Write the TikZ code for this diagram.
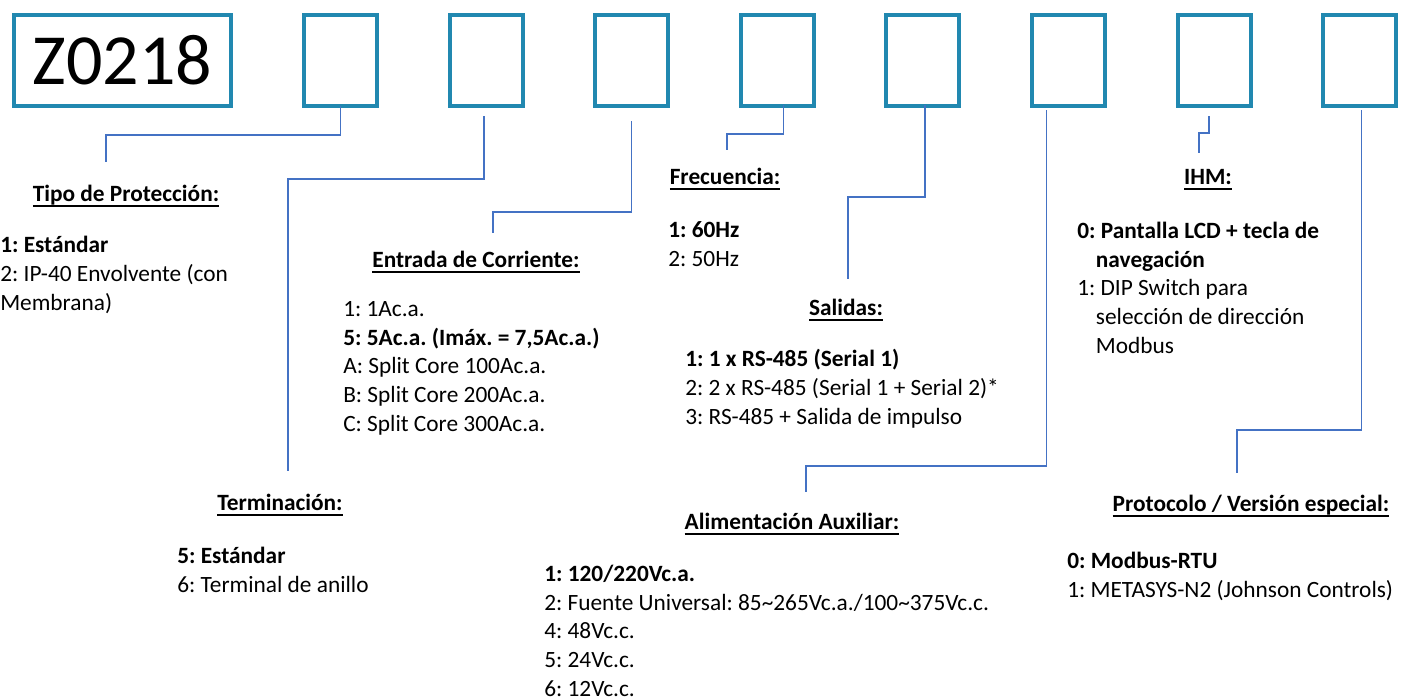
\documentclass[tikz,border=0pt]{standalone}
\usepackage{fontspec}
\setmainfont{Carlito}
\usepackage{xcolor}
\usepackage{tikz}
\usetikzlibrary{calc,positioning}

\definecolor{slotblue}{RGB}{33,136,176}
\definecolor{linkblue}{RGB}{68,114,196}

% heading with a fixed underline
\newcommand{\headline}[1]{\sbox0{#1}\rlap{\rule[-4.5pt]{\wd0}{1.3pt}}\usebox0}
\frenchspacing

\begin{document}
\begin{tikzpicture}[
    x=0.75pt, y=-0.75pt,
    slot/.style={draw=slotblue, line width=3pt, minimum width=54.75pt, minimum height=68.25pt, inner sep=0pt},
    head/.style={anchor=base, inner sep=0pt, font=\fontsize{17.5}{21.4}\selectfont\bfseries},
    opts/.style={anchor=base west, align=left, inner sep=0pt, font=\fontsize{17.5}{21.4}\selectfont},
    link/.style={draw=linkblue, line width=1pt},
]
\useasboundingbox (0,0) rectangle (1405,699);

% ---------- Code boxes ----------
\node[slot, minimum width=162.75pt, font=\fontsize{54}{54}\selectfont] (code) at (122.5,60.5) {Z0218};
\foreach \i in {1,...,8}
    \node[slot] (b\i) at ({340.5+145.6*(\i-1)},60.5) {};

% ---------- Headings ----------
\node[head] (tipo) at (126,201) {\headline{Tipo de Protección:}};
\node[head] (term) at (280,510) {\headline{Terminación:}};
\node[head] (entrada) at (476,267) {\headline{Entrada de Corriente:}};
\node[head] (frec) at (725,184) {\headline{Frecuencia:}};
\node[head] (salidas) at (846,315) {\headline{Salidas:}};
\node[head] (alim) at (792,529) {\headline{Alimentación Auxiliar:}};
\node[head] (ihm) at (1208,184) {\headline{IHM:}};
\node[head] (proto) at (1251,511) {\headline{Protocolo / Versión especial:}};

% ---------- Option lists (placed at the baseline of their last line) ----------
\node[opts] (tipolist) at (0,310) {\textbf{1: Estándar}\\2: IP-40 Envolvente (con\\Membrana)};
\node[opts] (termlist) at (177,592) {\textbf{5: Estándar}\\6: Terminal de anillo};
\node[opts] (entradalist) at (343,431) {1: 1Ac.a.\\\textbf{5: 5Ac.a. (Imáx. = 7,5Ac.a.)}\\A: Split Core 100Ac.a.\\B: Split Core 200Ac.a.\\C: Split Core 300Ac.a.};
\node[opts] (freclist) at (668,266) {\textbf{1: 60Hz}\\2: 50Hz};
\node[opts] (salidaslist) at (685,424) {\textbf{1: 1 x RS-485 (Serial 1)}\\2: 2 x RS-485 (Serial 1 + Serial 2)*\\3: RS-485 + Salida de impulso};
\node[opts] (ihmlist) at (1077,353) {\textbf{0: Pantalla LCD + tecla de}\\\hspace*{14pt}\textbf{navegación}\\1: DIP Switch para\\\hspace*{14pt}selección de dirección\\\hspace*{14pt}Modbus};
\node[opts] (alimlist) at (544,696) {\textbf{1: 120/220Vc.a.}\\2: Fuente Universal: 85\textasciitilde265Vc.a./100\textasciitilde375Vc.c.\\4: 48Vc.c.\\5: 24Vc.c.\\6: 12Vc.c.};
\node[opts] (protolist) at (1067,597) {\textbf{0: Modbus-RTU}\\1: METASYS-N2 (Johnson Controls)};

% ---------- Connectors ----------
\draw[link] ($(b1.south)+(0,-2)$) -- ++(0,29) -| ($(tipo.base)+(-20,-39)$);
\draw[link] ($(b2.south)+(-2,8)$) -- ++(0,63) -| ($(term.base)+(8,-39)$);
\draw[link] ($(b3.south)+(0,13)$) -- ++(0,91) -| ($(entrada.base)+(17,-34)$);
\draw[link] ($(b4.south)+(6,-3)$) -- ++(0,29) -| ($(frec.base)+(2,-34)$);
\draw[link] ($(b5.south)+(2,-3)$) -- ++(0,92) -| ($(salidas.base)+(2,-36)$);
\draw[link] ($(b6.south)+(-22,2)$) -- ++(0,356) -| ($(alim.base)+(14,-37)$);
\draw[link] ($(b7.south)+(-5,8)$) -- ++(0,17) -| ($(ihm.base)+(-9,-31)$);
\draw[link] ($(b8.south)+(2,2)$) -- ++(0,320) -| ($(proto.base)+(-14,-38)$);

\end{tikzpicture}
\end{document}
